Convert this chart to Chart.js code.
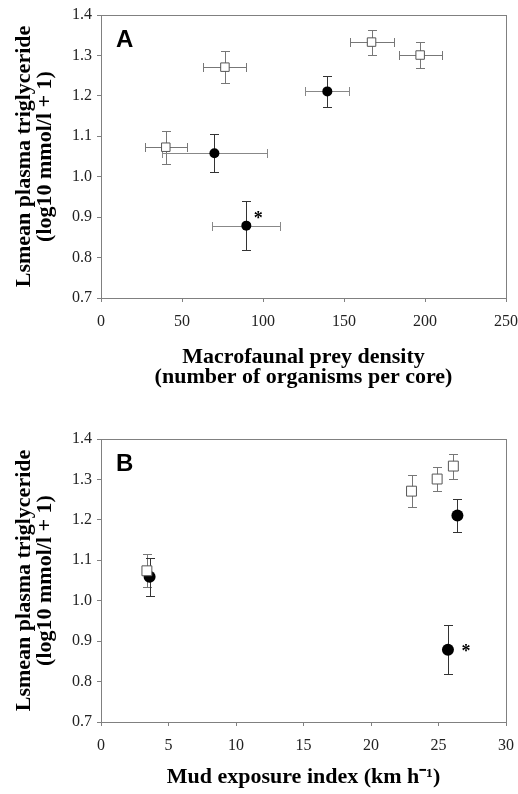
<!DOCTYPE html>
<html><head><meta charset="utf-8">
<script src="https://cdn.jsdelivr.net/npm/chart.js@4.4.1/dist/chart.umd.min.js"></script>
<style>
html,body{margin:0;padding:0;background:#fff;}
#wrap{position:relative;width:518px;height:794px;overflow:hidden;}
canvas{position:absolute;left:0;}
</style></head><body>
<div id="wrap">
<canvas id="cA" width="518" height="400" style="top:0;width:518px;height:400px"></canvas>
<canvas id="cB" width="518" height="394" style="top:400px;width:518px;height:394px"></canvas>
</div>
<script>
// ---- tick labels ----
const yTicks  = [0.7, 0.8, 0.9, 1.0, 1.1, 1.2, 1.3, 1.4];
const xTicksA = [0, 50, 100, 150, 200, 250];
const xTicksB = [0, 5, 10, 15, 20, 25, 30];

// ---- Panel A: macrofaunal prey density ----
const aOpenX    = [40, 76.5, 167, 197];
const aOpenY    = [1.073, 1.271, 1.333, 1.301];
const aOpenXErr = [13, 13.3, 13.6, 13.3];
const aOpenYErr = [0.041, 0.039, 0.031, 0.031];

const aFillX    = [70, 139.7, 89.7];
const aFillY    = [1.058, 1.211, 0.879];
const aFillXErr = [32.6, 13.5, 20.9];
const aFillYErr = [0.047, 0.039, 0.060];
const aFillNote = ['', '', '*'];

// ---- Panel B: mud exposure index ----
const bOpenX    = [3.4, 23.0, 24.9, 26.1];
const bOpenY    = [1.074, 1.271, 1.301, 1.333];
const bOpenYErr = [0.041, 0.039, 0.030, 0.031];

const bFillX    = [3.6, 26.4, 25.7];
const bFillY    = [1.059, 1.211, 0.879];
const bFillYErr = [0.047, 0.040, 0.060];
const bFillNote = ['', '', '*'];

const yTitle = ['Lsmean plasma triglyceride', '(log10 mmol/l + 1)'];
const xTitleA = ['Macrofaunal prey density', '(number of organisms per core)'];
const xTitleB = 'Mud exposure index (km h\u207B\u00B9)';

function pts(xs, ys, xe, ye, notes) {
  return xs.map((x, i) => ({x: x, y: ys[i], xErr: xe ? xe[i] : 0, yErr: ye ? ye[i] : 0, note: notes ? notes[i] : ''}));
}

const frame = {
  id: 'frame',
  beforeDatasetsDraw(chart) {
    const {ctx, chartArea: a} = chart;
    ctx.save();
    ctx.strokeStyle = '#808080';
    ctx.lineWidth = 1;
    ctx.strokeRect(Math.round(a.left) + 0.5, Math.round(a.top) + 0.5, Math.round(a.right - a.left), Math.round(a.bottom - a.top));
    ctx.restore();
  }
};

const errorBars = {
  id: 'errorBars',
  beforeDatasetsDraw(chart, args, opts) {
    const {ctx} = chart;
    const xs = chart.scales.x, ys = chart.scales.y;
    const cap = 4.5;
    ctx.save();
    ctx.lineWidth = 1;
    chart.data.datasets.forEach(ds => {
      ds.data.forEach(p => {
        const px = Math.round(xs.getPixelForValue(p.x)) + 0.5;
        const py = Math.round(ys.getPixelForValue(p.y)) + 0.5;
        if (p.xErr) {
          const x0 = Math.round(xs.getPixelForValue(p.x - p.xErr)) + 0.5;
          const x1 = Math.round(xs.getPixelForValue(p.x + p.xErr)) + 0.5;
          ctx.strokeStyle = ds.errColorX;
          ctx.beginPath();
          ctx.moveTo(x0, py); ctx.lineTo(x1, py);
          ctx.moveTo(x0, py - cap); ctx.lineTo(x0, py + cap);
          ctx.moveTo(x1, py - cap); ctx.lineTo(x1, py + cap);
          ctx.stroke();
        }
        if (p.yErr) {
          const y0 = Math.round(ys.getPixelForValue(p.y - p.yErr)) + 0.5;
          const y1 = Math.round(ys.getPixelForValue(p.y + p.yErr)) + 0.5;
          ctx.strokeStyle = ds.errColorY;
          ctx.beginPath();
          ctx.moveTo(px, y0); ctx.lineTo(px, y1);
          ctx.moveTo(px - cap, y0); ctx.lineTo(px + cap, y0);
          ctx.moveTo(px - cap, y1); ctx.lineTo(px + cap, y1);
          ctx.stroke();
        }
      });
    });
    ctx.restore();
  }
};

const annotate = {
  id: 'annotate',
  afterDatasetsDraw(chart, args, opts) {
    const {ctx, chartArea: a} = chart;
    const xs = chart.scales.x, ys = chart.scales.y;
    ctx.save();
    ctx.fillStyle = '#000';
    ctx.font = 'bold 24px "Liberation Sans", Arial, sans-serif';
    ctx.textAlign = 'left';
    ctx.textBaseline = 'alphabetic';
    ctx.fillText(opts.label, a.left + 15, a.top + 32);
    ctx.font = 'bold 18px "Liberation Serif", "Times New Roman", serif';
    ctx.textAlign = 'center';
    chart.data.datasets.forEach(ds => {
      ds.data.forEach(p => {
        if (p.note) {
          ctx.fillText(p.note, xs.getPixelForValue(p.x) + opts.dx, ys.getPixelForValue(p.y) + opts.dy + 8.5);
        }
      });
    });
    ctx.restore();
  }
};

const serif = '"Liberation Serif", "Times New Roman", serif';

function makeChart(id, cfg) {
  return new Chart(document.getElementById(id), {
    type: 'scatter',
    data: {
      datasets: [
        {
          data: cfg.open,
          pointStyle: 'rect',
          pointRadius: cfg.sqR,
          backgroundColor: '#fff',
          borderColor: '#555',
          borderWidth: 1,
          errColorX: '#777',
          errColorY: '#777'
        },
        {
          data: cfg.fill,
          pointStyle: 'circle',
          pointRadius: cfg.ciR,
          backgroundColor: '#000',
          borderColor: '#000',
          borderWidth: 0,
          errColorX: '#888',
          errColorY: '#333'
        }
      ]
    },
    options: {
      responsive: false,
      animation: false,
      devicePixelRatio: 1,
      events: [],
      layout: {padding: {left: 0, right: 12, top: cfg.top, bottom: 0}},
      plugins: {
        legend: {display: false},
        tooltip: {enabled: false},
        annotate: {label: cfg.label, dx: cfg.noteDx, dy: cfg.noteDy}
      },
      scales: {
        x: {
          type: 'linear',
          min: cfg.xTicks[0],
          max: cfg.xTicks[cfg.xTicks.length - 1],
          afterBuildTicks: s => { s.ticks = cfg.xTicks.map(v => ({value: v})); },
          afterFit: s => { s.height = cfg.xh; s.paddingLeft = 0; s.paddingRight = 0; },
          grid: {display: true, drawOnChartArea: false, drawTicks: true, tickLength: 4, color: '#808080'},
          border: {display: true, color: '#808080', width: 1},
          ticks: {color: '#222', font: {family: serif, size: 16}, padding: 10, maxRotation: 0, autoSkip: false},
          title: {display: true, text: cfg.xTitle, color: '#000',
                  font: {family: serif, size: 22, weight: 'bold', lineHeight: '20px'},
                  padding: {top: 0, bottom: cfg.xpb}}
        },
        y: {
          type: 'linear',
          min: yTicks[0],
          max: yTicks[yTicks.length - 1],
          afterBuildTicks: s => { s.ticks = yTicks.map(v => ({value: v})); },
          afterFit: s => { s.width = 101; s.paddingTop = 0; s.paddingBottom = 0; },
          grid: {display: true, drawOnChartArea: false, drawTicks: true, tickLength: 4, color: '#808080'},
          border: {display: true, color: '#808080', width: 1},
          ticks: {color: '#222', font: {family: serif, size: 16}, padding: 5, autoSkip: false,
                  callback: v => Number(v).toFixed(1)},
          title: {display: true, text: yTitle, color: '#000',
                  font: {family: serif, size: 22, weight: 'bold', lineHeight: '21px'},
                  padding: {top: 14, bottom: 0}}
        }
      }
    },
    plugins: [frame, errorBars, annotate]
  });
}

makeChart('cA', {
  open: pts(aOpenX, aOpenY, aOpenXErr, aOpenYErr),
  fill: pts(aFillX, aFillY, aFillXErr, aFillYErr, aFillNote),
  xTicks: xTicksA, xTitle: xTitleA, label: 'A',
  top: 15, xh: 102, xpb: 13, sqR: 6, ciR: 5, noteDx: 12, noteDy: -10
});
makeChart('cB', {
  open: pts(bOpenX, bOpenY, null, bOpenYErr),
  fill: pts(bFillX, bFillY, null, bFillYErr, bFillNote),
  xTicks: xTicksB, xTitle: xTitleB, label: 'B',
  top: 39, xh: 72, xpb: 7, sqR: 7, ciR: 6, noteDx: 18, noteDy: -1.5
});
</script>
</body></html>
